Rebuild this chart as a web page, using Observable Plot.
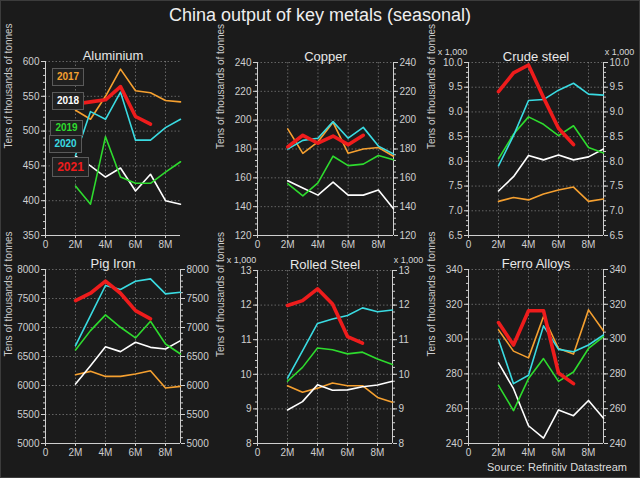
<!DOCTYPE html>
<html><head><meta charset="utf-8">
<script src="https://cdn.jsdelivr.net/npm/d3@7"></script>
<script src="https://cdn.jsdelivr.net/npm/@observablehq/plot@0.6"></script>
<style>
html,body{margin:0;padding:0;background:#1b1b1b;}
#root{position:relative;width:640px;height:478px;background:#1b1b1b;overflow:hidden;font-family:"Liberation Sans",Arial,sans-serif;}
#frame{position:absolute;left:0;top:0;width:638px;height:476px;border:1px solid #3c3c3c;pointer-events:none;}
#title{position:absolute;left:0;width:640px;top:5px;text-align:center;color:#eeeeee;font-size:18px;}
#source{position:absolute;right:13px;top:461px;color:#dddddd;font-size:11px;}
.panel{position:absolute;}
.leg{position:absolute;border:1px solid #5a5a5a;background:#202020;font-weight:bold;font-size:10px;text-align:center;box-sizing:border-box;}
</style>
</head><body>
<div id="root">
<div id="title">China output of key metals (seasonal)</div>
<div id="source">Source: Refinitiv Datastream</div>
<div id="frame"></div>
</div>
<script>
const months = [2, 3, 4, 5, 6, 7, 8, 9];
const years = ["2017", "2018", "2019", "2020", "2021"];
const yearColors = ["#f5a030", "#ffffff", "#2edb2e", "#3adbe2", "#ee1c1c"];

// values per year: 2017, 2018, 2019, 2020, 2021 (2M..9M)
const aluminium = [
  [530, 517, 550, 589, 558, 555, 544, 542],
  [464, 450, 434, 447, 414, 438, 400, 395],
  [421, 395, 492, 434, 425, 425, 441, 456],
  [465, 528, 517, 556, 487, 487, 505, 517],
  [539, 542, 545, 564, 521, 510]
];
const copper = [
  [194, 177, 185, 198.5, 177, 180, 181, 175],
  [158, 153, 148, 157, 148, 148, 151.5, 138.5],
  [156, 147.5, 156.5, 175, 168.5, 169.5, 175.5, 172.5],
  [180, 186, 187.5, 199, 187.5, 195, 182, 176.5],
  [181.5, 189.5, 184, 189, 183, 189.5]
];
const crudeSteel = [
  [7.19, 7.27, 7.22, 7.34, 7.42, 7.48, 7.19, 7.24],
  [7.40, 7.69, 8.12, 8.03, 8.13, 8.03, 8.09, 8.25],
  [8.05, 8.55, 8.90, 8.75, 8.52, 8.72, 8.28, 8.17],
  [7.91, 8.52, 9.23, 9.25, 9.44, 9.58, 9.36, 9.34],
  [9.41, 9.79, 9.95, 9.29, 8.67, 8.34]
];
const pigIron = [
  [6186, 6244, 6157, 6157, 6198, 6255, 5956, 5985],
  [6025, 6342, 6670, 6584, 6745, 6658, 6630, 6774],
  [6612, 6946, 7217, 7004, 6820, 7108, 6716, 6543],
  [6687, 7205, 7724, 7655, 7798, 7839, 7580, 7608],
  [7465, 7591, 7798, 7591, 7292, 7148]
];
const rolledSteel = [
  [9.67, 9.48, 9.60, 9.75, 9.67, 9.67, 9.33, 9.19],
  [8.97, 9.21, 9.70, 9.54, 9.55, 9.64, 9.69, 9.80],
  [9.80, 10.20, 10.76, 10.71, 10.59, 10.64, 10.44, 10.28],
  [9.89, 10.68, 11.47, 11.60, 11.70, 11.92, 11.81, 11.86],
  [11.99, 12.13, 12.47, 12.03, 11.09, 10.90]
];
const ferroAlloys = [
  [305.3, 293.1, 289.2, 313, 294.6, 291.4, 316.8, 304.7],
  [286.3, 271.5, 250.2, 243.1, 259.3, 256.0, 264.7, 254.5],
  [273.4, 258.9, 277.3, 288.8, 275.7, 281.1, 294.6, 301.4],
  [299.8, 274.4, 279.2, 307.6, 294.1, 292.7, 296.6, 302.4],
  [309.5, 296.6, 316.3, 316.3, 280.5, 274.4]
];
const xTicks = [0, 2, 4, 6, 8];
const yLabel = "Tens of thousands of tonnes";

function rows(series) {
  const out = [];
  series.forEach((vals, i) => vals.forEach((v, j) => out.push({x: months[j], y: v, year: years[i]})));
  return out;
}

const axisColor = "#cfcfcf";
const gridStyle = {stroke: "#a0a0a0", strokeOpacity: 0.55, strokeDasharray: "1.5,2"};

function panel(o) {
  const data = rows(o.series);
  const [y0, y1] = o.domain;
  const major = d3.range(y0, y1 + o.step / 2, o.step);
  const minor = d3.range(y0, y1 + o.minor / 2, o.minor);
  const marks = [
    Plot.gridY(major, gridStyle),
    Plot.gridX([2, 4, 6, 8], gridStyle),
    Plot.ruleX([0], {stroke: axisColor}),
    Plot.ruleY([y0], {stroke: axisColor}),
    Plot.axisY(minor, {anchor: "left", tickSize: 2, tickFormat: () => "", color: axisColor, label: null}),
    Plot.axisY(major, {anchor: "left", tickSize: 4, tickFormat: o.fmt, color: axisColor, label: null, tickPadding: 2}),
    Plot.axisX(xTicks, {anchor: "bottom", tickSize: 3, tickFormat: d => d === 0 ? "0" : d + "M", color: axisColor, label: null, tickPadding: 2})
  ];
  if (o.right) {
    marks.push(
      Plot.ruleX([9], {stroke: axisColor}),
      Plot.axisY(minor, {anchor: "right", tickSize: 2, tickFormat: () => "", color: axisColor, label: null}),
      Plot.axisY(major, {anchor: "right", tickSize: 4, tickFormat: o.fmt, color: axisColor, label: null, tickPadding: 2})
    );
  }
  years.forEach((yr, i) => {
    marks.push(Plot.line(data.filter(d => d.year === yr), {
      x: "x", y: "y", stroke: yearColors[i], strokeWidth: yr === "2021" ? 3.6 : 1.6
    }));
  });
  marks.push(
    Plot.text([o.title], {frameAnchor: "top", dy: -11, fill: "#e8e8e8", fontSize: 13}),
    Plot.text([yLabel], {frameAnchor: "left", rotate: -90, dx: -37, fill: "#cccccc", fontSize: 10})
  );
  if (o.thousands) {
    marks.push(
      Plot.text(["x 1,000"], {frameAnchor: "top-left", dx: -16, dy: -14, fill: "#d8d8d8", fontSize: 9, textAnchor: "middle"}),
      Plot.text(["x 1,000"], {frameAnchor: "top-right", dx: 16, dy: -14, fill: "#d8d8d8", fontSize: 9, textAnchor: "middle"})
    );
  }
  const svg = Plot.plot({
    width: o.width, height: o.height,
    marginTop: o.mt, marginRight: o.mr, marginBottom: o.mb, marginLeft: o.ml,
    x: {domain: [0, 9]},
    y: {domain: o.domain},
    style: {background: "transparent", color: axisColor, fontFamily: "'Liberation Sans', Arial, sans-serif", fontSize: "10px", overflow: "visible"},
    marks
  });
  const wrap = document.createElement("div");
  wrap.className = "panel";
  wrap.style.left = o.left + "px";
  wrap.style.top = o.top + "px";
  wrap.appendChild(svg);
  document.getElementById("root").appendChild(wrap);
}

const f1 = d => d3.format(".1f")(d);
const f0 = d => String(Math.round(d));

panel({title: "Aluminium", series: aluminium, left: 0, top: 40, width: 213, height: 220, mt: 21, mr: 33, mb: 25, ml: 45, domain: [350, 600], step: 50, minor: 10, fmt: f0, right: false});
panel({title: "Copper", series: copper, left: 210, top: 40, width: 213, height: 220, mt: 22, mr: 30, mb: 25, ml: 47, domain: [120, 240], step: 20, minor: 4, fmt: f0, right: true});
panel({title: "Crude steel", series: crudeSteel, left: 420, top: 40, width: 220, height: 220, mt: 22, mr: 37, mb: 25, ml: 48, domain: [6.5, 10], step: 0.5, minor: 0.1, fmt: f1, right: true, thousands: true});
panel({title: "Pig Iron", series: pigIron, left: 0, top: 250, width: 213, height: 220, mt: 19, mr: 33, mb: 27, ml: 45, domain: [5000, 8000], step: 500, minor: 100, fmt: f0, right: true});
panel({title: "Rolled Steel", series: rolledSteel, left: 210, top: 250, width: 213, height: 220, mt: 20, mr: 31, mb: 27, ml: 47, domain: [8, 13], step: 1, minor: 0.2, fmt: f0, right: true, thousands: true});
panel({title: "Ferro Alloys", series: ferroAlloys, left: 420, top: 250, width: 220, height: 220, mt: 19, mr: 37, mb: 27, ml: 48, domain: [240, 340], step: 20, minor: 4, fmt: f0, right: true});

// legend boxes (Aluminium panel)
const legendBoxes = [
  {year: "2017", left: 52, top: 68, w: 32, h: 18, size: 10},
  {year: "2018", left: 52, top: 92, w: 32, h: 18, size: 10},
  {year: "2019", left: 50, top: 120, w: 33, h: 16, size: 10},
  {year: "2020", left: 49, top: 135, w: 33, h: 18, size: 10},
  {year: "2021", left: 52, top: 157, w: 37, h: 20, size: 12}
];
legendBoxes.forEach(b => {
  const d = document.createElement("div");
  d.className = "leg";
  d.textContent = b.year;
  d.style.left = b.left + "px";
  d.style.top = b.top + "px";
  d.style.width = b.w + "px";
  d.style.height = b.h + "px";
  d.style.lineHeight = (b.h - 2) + "px";
  d.style.fontSize = b.size + "px";
  d.style.color = yearColors[years.indexOf(b.year)];
  document.getElementById("root").appendChild(d);
});
document.getElementById("root").appendChild(document.getElementById("frame"));
</script>
</body></html>
